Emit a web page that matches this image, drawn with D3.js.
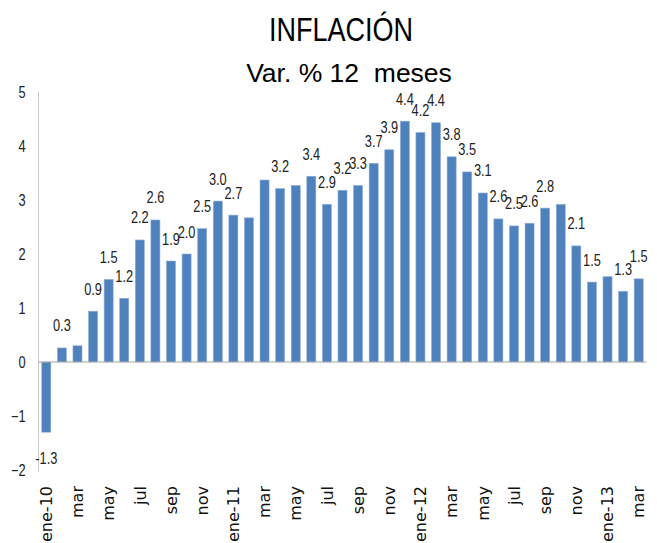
<!DOCTYPE html>
<html>
<head lang="es">
    <meta charset="UTF-8">
    <title>Inflación</title>
    <script src="https://cdn.jsdelivr.net/npm/d3@7"></script>
    <style>
        *{
            margin: 0;
            padding: 0;
        }
        body{background:#fff;}
    </style>
</head>
<body>
<div id="mychart" style="width:657px;height:543px;"></div>
<script>
    // meses ene-10 .. mar-13
    var categories=['ene-10','feb-10','mar-10','abr-10','may-10','jun-10','jul-10','ago-10','sep-10','oct-10','nov-10','dic-10',
        'ene-11','feb-11','mar-11','abr-11','may-11','jun-11','jul-11','ago-11','sep-11','oct-11','nov-11','dic-11',
        'ene-12','feb-12','mar-12','abr-12','may-12','jun-12','jul-12','ago-12','sep-12','oct-12','nov-12','dic-12',
        'ene-13','feb-13','mar-13'];
    var values=[-1.3,0.26,0.30,0.94,1.53,1.18,2.26,2.63,1.87,2.0,2.47,2.98,
        2.72,2.67,3.37,3.21,3.27,3.44,2.92,3.18,3.27,3.68,3.93,4.46,
        4.25,4.43,3.80,3.52,3.13,2.65,2.52,2.57,2.85,2.92,2.15,1.48,
        1.58,1.31,1.54];
    // etiquetas de datos (null = sin etiqueta)
    var dataLabels=['-1.3','0.3',null,'0.9','1.5','1.2','2.2','2.6','1.9','2.0','2.5','3.0',
        '2.7',null,null,'3.2',null,'3.4','2.9','3.2','3.3','3.7','3.9','4.4',
        '4.2','4.4','3.8','3.5','3.1','2.6','2.5','2.6','2.8',null,'2.1','1.5',
        null,'1.3','1.5'];
    // etiquetas del eje x (una de cada dos)
    var tickLabels=['ene-10','mar','may','jul','sep','nov','ene-11','mar','may','jul','sep','nov',
        'ene-12','mar','may','jul','sep','nov','ene-13','mar'];
    var yTicks=[-2,-1,0,1,2,3,4,5];

    var _narrow=0.8; //fuente estrecha: Liberation Sans comprimida
    var _svg=d3.select("#mychart").append("svg")
            .attr("width",657)
            .attr("height",543);

    //titulos
    _svg.append("text")
            .attr("transform","translate(341,40.5) scale(0.82,1)")
            .attr("text-anchor","middle")
            .style("font-family","'Liberation Sans',Arial,sans-serif")
            .style("font-size","33px")
            .attr("fill","#000")
            .text("INFLACIÓN");
    _svg.append("text")
            .attr("x",349).attr("y",82)
            .attr("text-anchor","middle")
            .style("font-family","'Liberation Sans',Arial,sans-serif")
            .style("font-size","26.5px")
            .style("white-space","pre")
            .attr("fill","#000")
            .text("Var. % 12  meses");

    var _left=38.5, _right=646.5;
    var _yscale=d3.scaleLinear().domain([-2,5]).range([470,92]);
    var _xscale=d3.scaleBand()
            .domain(categories)
            .range([_left,_right])
            .paddingInner(0.42)
            .paddingOuter(0.21);

    //eje y
    var _gy=_svg.append("g").attr("transform","translate("+_left+",0)");
    _gy.call(d3.axisLeft(_yscale).tickValues(yTicks).tickSize(0).tickPadding(0).tickFormat(d3.format("d")));
    _gy.select(".domain").attr("stroke","#c8c8c8").attr("d","M0,92V472");
    _gy.selectAll(".tick text")
            .attr("x",null)
            .attr("transform","translate(-13,0) scale("+_narrow+",1)")
            .style("font-family","'Liberation Sans',Arial,sans-serif")
            .style("font-size","16px")
            .attr("fill","#222");

    //barras
    _svg.append("g").selectAll("rect")
            .data(values)
            .enter()
            .append("rect")
            .attr("x",function(d,i){return _xscale(categories[i]);})
            .attr("y",function(d){return _yscale(Math.max(d,0));})
            .attr("width",_xscale.bandwidth())
            .attr("height",function(d){return Math.abs(_yscale(d)-_yscale(0));})
            .attr("fill","#4f81bd")
            .attr("stroke","#8fb0d9")
            .attr("stroke-width",0.6);

    //linea cero
    _svg.append("line")
            .attr("x1",_left).attr("x2",_right)
            .attr("y1",_yscale(0)).attr("y2",_yscale(0))
            .attr("stroke","#a6a6a6")
            .attr("stroke-width",1.2);

    //etiquetas de datos
    var labelData=values.map(function(v,i){return {v:v,cat:categories[i],label:dataLabels[i]};})
            .filter(function(d){return d.label!==null;});
    _svg.append("g").selectAll("text")
            .data(labelData)
            .enter()
            .append("text")
            .attr("transform",function(d){
                var x=_xscale(d.cat)+_xscale.bandwidth()/2;
                var y=d.v>=0? _yscale(d.v)-16.5 : _yscale(d.v)+32;
                return "translate("+x+","+y+") scale("+_narrow+",1)";
            })
            .attr("text-anchor","middle")
            .style("font-family","'Liberation Sans',Arial,sans-serif")
            .style("font-size","16px")
            .attr("fill","#222")
            .text(function(d){return d.label;});

    //eje x (etiquetas giradas)
    var _gx=_svg.append("g");
    _gx.selectAll("text")
            .data(tickLabels)
            .enter()
            .append("text")
            .attr("transform",function(d,i){
                var cx=_xscale(categories[i*2])+_xscale.bandwidth()/2;
                return "translate("+cx+",486) rotate(-90)";
            })
            .attr("dy","0.36em")
            .attr("text-anchor","end")
            .style("font-family","'DejaVu Sans',Verdana,sans-serif")
            .style("font-size","16px")
            .attr("fill","#111")
            .text(function(d){return d;});
</script>
</body>
</html>
